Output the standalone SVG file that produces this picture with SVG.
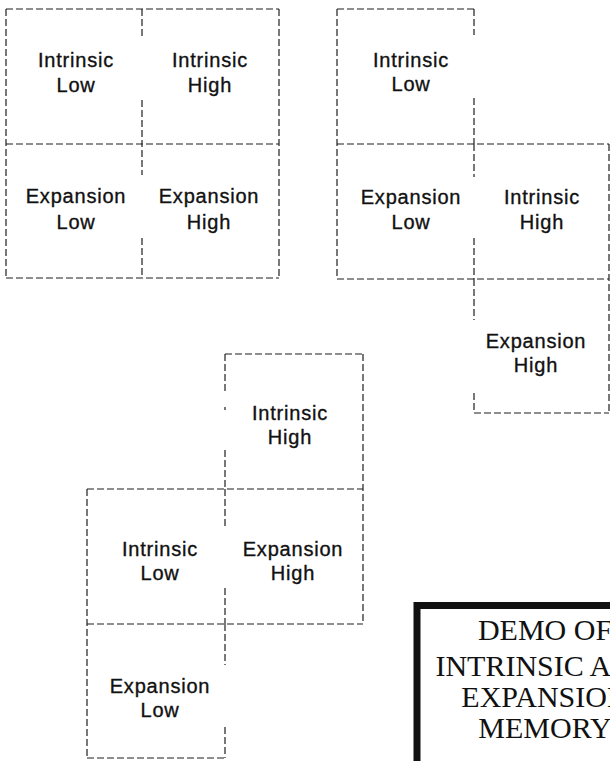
<svg xmlns="http://www.w3.org/2000/svg" width="610" height="761" viewBox="0 0 610 761">
<style>
.g{stroke:#1e1e1e;stroke-width:1.2;stroke-dasharray:7 3;fill:none}
.t{font-family:"Liberation Sans",Arial,sans-serif;font-size:20px;letter-spacing:0.8px;fill:#111;stroke:#111;stroke-width:0.35;text-anchor:middle}
.h{font-family:"Liberation Serif","Times New Roman",serif;font-size:30px;fill:#111;text-anchor:middle}
</style>
<rect width="610" height="761" fill="#fff"/>
<g id="connectors">
<path class="g" d="M6 9H279M6 144H279M6 278H279M6 9V278M279 9V278M142 9V39M142 100V175M142 238V278"/>
<path class="g" d="M337 9H474M337 144H609M337 279H609M474 413H609M337 9V279M609 144V413M474 9V35M474 98V144M474 144V177M474 238V279M474 279V320M474 393V413"/>
<path class="g" d="M225 354H363M87 489H363M87 624H363M87 758H225M363 354V624M87 489V758M225 354V392M225 407V410M225 450V489M225 489V528M225 588V624M225 624V665M225 727V758"/>
</g>
<g id="tl-intrinsic-low"><text class="t" x="76" y="67">Intrinsic</text><text class="t" x="76" y="92">Low</text></g>
<g id="tl-intrinsic-high"><text class="t" x="210" y="67">Intrinsic</text><text class="t" x="210" y="92">High</text></g>
<g id="tl-expansion-low"><text class="t" x="76" y="203">Expansion</text><text class="t" x="76" y="229">Low</text></g>
<g id="tl-expansion-high"><text class="t" x="209" y="203">Expansion</text><text class="t" x="209" y="229">High</text></g>
<g id="tr-intrinsic-low"><text class="t" x="411" y="67">Intrinsic</text><text class="t" x="411" y="91">Low</text></g>
<g id="tr-expansion-low"><text class="t" x="411" y="204">Expansion</text><text class="t" x="411" y="229">Low</text></g>
<g id="tr-intrinsic-high"><text class="t" x="542" y="204">Intrinsic</text><text class="t" x="542" y="229">High</text></g>
<g id="tr-expansion-high"><text class="t" x="536" y="348">Expansion</text><text class="t" x="536" y="372">High</text></g>
<g id="b-intrinsic-high"><text class="t" x="290" y="420">Intrinsic</text><text class="t" x="290" y="444">High</text></g>
<g id="b-intrinsic-low"><text class="t" x="160" y="556">Intrinsic</text><text class="t" x="160" y="580">Low</text></g>
<g id="b-expansion-high"><text class="t" x="293" y="556">Expansion</text><text class="t" x="293" y="580">High</text></g>
<g id="b-expansion-low"><text class="t" x="160" y="693">Expansion</text><text class="t" x="160" y="717">Low</text></g>
<g id="title">
<rect x="417" y="605.5" width="320" height="300" fill="#fff" stroke="#111" stroke-width="7"/>
<text class="h" x="545" y="640">DEMO OF</text>
<text class="h" x="545" y="676">INTRINSIC AND</text>
<text class="h" x="545" y="707">EXPANSION</text>
<text class="h" x="545" y="738">MEMORY</text>
</g>
</svg>
